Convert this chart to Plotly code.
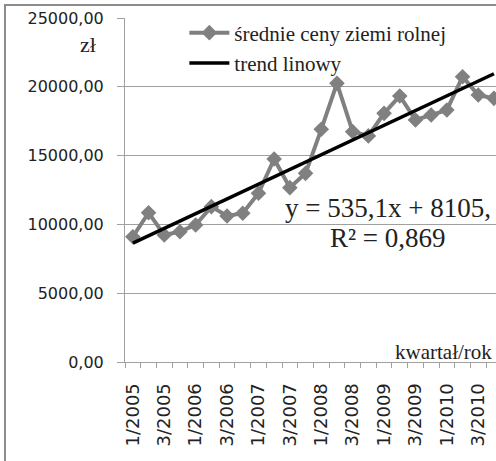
import plotly.graph_objects as go

quarters = ["1/2005", "2/2005", "3/2005", "4/2005",
            "1/2006", "2/2006", "3/2006", "4/2006",
            "1/2007", "2/2007", "3/2007", "4/2007",
            "1/2008", "2/2008", "3/2008", "4/2008",
            "1/2009", "2/2009", "3/2009", "4/2009",
            "1/2010", "2/2010", "3/2010", "4/2010"]
prices = [9100, 10850, 9230, 9470, 9960, 11290, 10610, 10810,
          12260, 14750, 12670, 13710, 16910, 20250, 16740, 16430,
          18070, 19330, 17590, 17950, 18310, 20730, 19400, 19160]
trend_slope = 535.1
trend_intercept = 8105
trend_eq = "y = 535,1x + 8105,"
trend_r2 = "R² = 0,869"

n = len(quarters)
trend_x = [quarters[0], quarters[-1]]
trend_y = [trend_slope * 1 + trend_intercept, trend_slope * n + trend_intercept]

GREY = "#808080"
SERIF = "Liberation Serif"
SANS = "DejaVu Sans"
TXT = "#222"

fig = go.Figure()
fig.add_trace(go.Scatter(
    x=quarters, y=prices, mode="lines+markers",
    name="średnie ceny ziemi rolnej",
    line=dict(color=GREY, width=4),
    marker=dict(symbol="diamond", size=12, color=GREY),
))
fig.add_trace(go.Scatter(
    x=trend_x, y=trend_y, mode="lines", name="trend linowy",
    line=dict(color="black", width=3.5),
))

ticktext = [q if i % 2 == 0 else "" for i, q in enumerate(quarters)]

fig.update_layout(
    width=496, height=461,
    margin=dict(l=125, r=0, t=18, b=99),
    paper_bgcolor="white", plot_bgcolor="white",
    separators=", ",
    showlegend=True,
    legend=dict(x=0.16, y=1.016, xanchor="left", yanchor="top",
                font=dict(family=SERIF, size=21, color=TXT),
                bgcolor="rgba(255,255,255,0)", tracegroupgap=0,
                itemwidth=40),
    xaxis=dict(type="category", categoryorder="array", categoryarray=quarters,
               range=[-0.5, 23.13], tickmode="array", tickvals=quarters,
               ticktext=ticktext, tickson="boundaries", ticks="outside",
               ticklen=5, tickcolor="#a0a0a0", tickangle=-90,
               showline=True, linecolor="#a0a0a0", linewidth=1,
               showgrid=False, zeroline=False, ticklabelstandoff=13,
               tickfont=dict(family=SANS, size=18, color=TXT)),
    yaxis=dict(range=[0, 25000], dtick=5000, tickformat=".2f",
               ticks="outside", ticklen=7, tickcolor="#a0a0a0",
               showline=True, linecolor="#a0a0a0", linewidth=1,
               showgrid=True, gridcolor="#a0a0a0", gridwidth=1,
               zeroline=False, ticklabelstandoff=10,
               tickfont=dict(family=SANS, size=16, color=TXT)),
    shapes=[dict(type="rect", xref="paper", yref="paper",
                 x0=-0.3235, x1=1.1, y0=-0.35, y1=1.0378,
                 line=dict(color="#8c8c8c", width=2))],
    annotations=[
        dict(text="zł", xref="paper", yref="paper", x=-0.0997, y=0.924,
             xanchor="center", yanchor="middle", showarrow=False,
             font=dict(family=SERIF, size=22, color=TXT)),
        dict(text=trend_eq, xref="paper", yref="paper", x=0.709, y=0.448,
             xanchor="center", yanchor="middle", showarrow=False,
             font=dict(family=SERIF, size=27, color=TXT)),
        dict(text=trend_r2, xref="paper", yref="paper", x=0.709, y=0.360,
             xanchor="center", yanchor="middle", showarrow=False,
             font=dict(family=SERIF, size=27, color=TXT)),
        dict(text="kwartał/rok", xref="paper", yref="paper", x=0.994, y=0.029,
             xanchor="right", yanchor="middle", showarrow=False,
             font=dict(family=SERIF, size=21, color=TXT)),
    ],
)

fig.write_html("out.html", config={"displayModeBar": False},
               post_script="document.body.style.margin='0';document.body.style.overflow='hidden';")
